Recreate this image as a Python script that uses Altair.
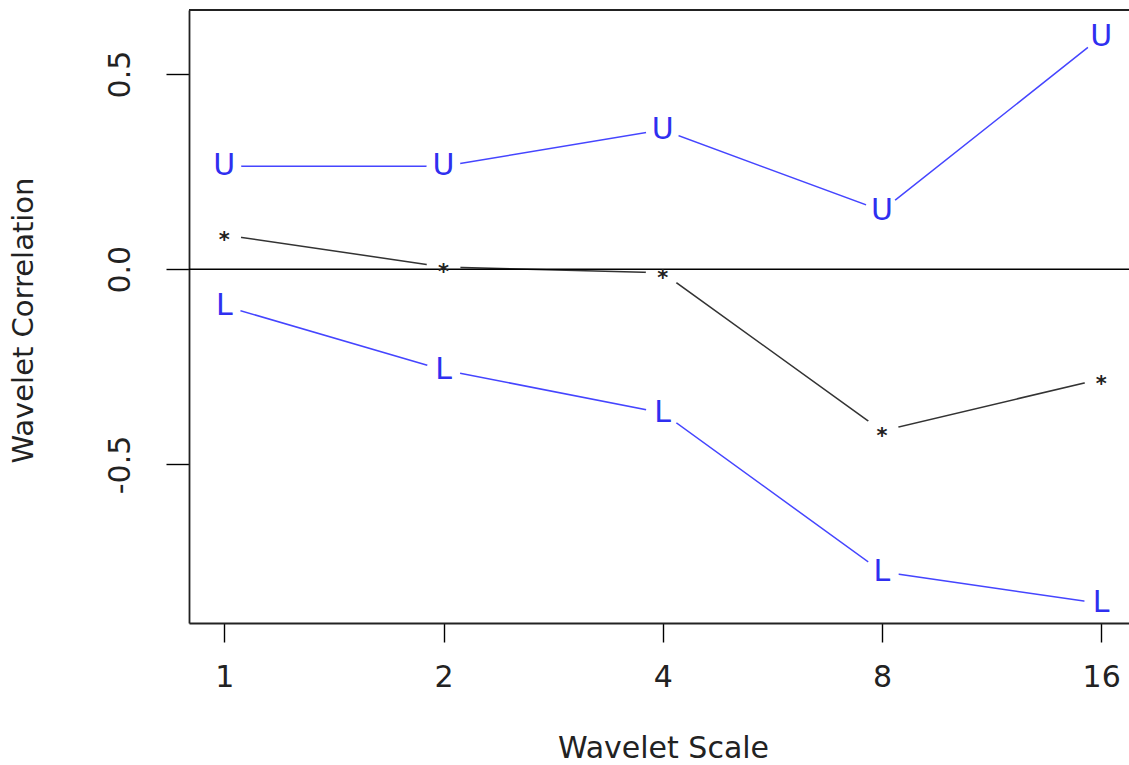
import altair as alt
import pandas as pd
import numpy as np

# ---- data ----
scales = [1, 2, 4, 8, 16]
upper = [0.264, 0.264, 0.357, 0.150, 0.595]
estimate = [0.088, 0.006, -0.009, -0.414, -0.281]
lower = [-0.094, -0.258, -0.368, -0.775, -0.856]

x_ticks = [0, 1, 2, 3, 4]
y_ticks = [-0.5, 0.0, 0.5]

rows = []
for name, vals, sym in (("upper", upper, "U"), ("estimate", estimate, "*"), ("lower", lower, "L")):
    for s, v in zip(scales, vals):
        rows.append({"series": name, "scale": s, "lx": float(np.log2(s)), "value": v, "sym": sym})
df = pd.DataFrame(rows)

FONT = "DejaVu Sans"
BLUE = "#2f2ff0"

xs = alt.X("lx:Q",
           scale=alt.Scale(domain=[-0.161, 4.127], nice=False, zero=False),
           axis=alt.Axis(values=x_ticks, labelExpr="toString(pow(2, datum.value))",
                         title="Wavelet Scale", grid=False,
                         tickSize=19, tickColor="black", tickWidth=1.4,
                         domainColor="#222", domainWidth=1.8,
                         labelFont=FONT, labelFontSize=30, labelColor="#222",
                         labelPadding=44, labelBaseline="alphabetic",
                         titleFont=FONT, titleFontSize=30, titleFontWeight="normal",
                         titleColor="#222", titleBaseline="alphabetic",
                         titleX=474, titleY=134, titleAlign="center"))
ys = alt.Y("value:Q",
           scale=alt.Scale(domain=[-0.906, 0.664], nice=False, zero=False),
           axis=alt.Axis(values=y_ticks,
                         labelExpr="datum.value === 0 ? '0.0' : toString(datum.value)",
                         title="Wavelet Correlation", grid=False,
                         tickSize=23, tickColor="black", tickWidth=1.4,
                         domainColor="#222", domainWidth=1.8,
                         labelFont=FONT, labelFontSize=30, labelColor="#222",
                         labelAngle=-90, labelAlign="center", labelBaseline="alphabetic",
                         labelPadding=37,
                         titleFont=FONT, titleFontSize=29, titleFontWeight="normal",
                         titleColor="#222", titleAngle=-90, titleBaseline="alphabetic",
                         titleX=-157, titleY=310, titleAlign="center"))

base = alt.Chart(df)

lines = base.mark_line(strokeWidth=1.5).encode(
    x=xs, y=ys, detail="series:N",
    color=alt.Color("series:N",
                    scale=alt.Scale(domain=["upper", "estimate", "lower"],
                                    range=["#4545ff", "#333333", "#4545ff"]),
                    legend=None),
)

gaps = base.mark_point(filled=True, shape="circle", size=1150, color="white", opacity=1).encode(
    x=xs, y=ys
)

zero = alt.Chart(pd.DataFrame({"z": [0.0]})).mark_rule(color="black", strokeWidth=1.5).encode(
    y=alt.Y("z:Q")
)
top = alt.Chart(pd.DataFrame({"z": [0.0]})).mark_rule(color="#222", strokeWidth=1.8).encode(
    y=alt.value(0)
)

letters = base.transform_filter("datum.series !== 'estimate'").mark_text(
    font=FONT, fontSize=30, color=BLUE, baseline="middle", align="center"
).encode(x=xs, y=ys, text="sym:N")

stars = base.transform_filter("datum.series === 'estimate'").mark_text(
    font=FONT, fontSize=21, fontWeight="bold", color="#222", baseline="alphabetic",
    align="center", dy=12
).encode(x=xs, y=ys, text="sym:N")

chart = alt.layer(lines, gaps, zero, top, letters, stars).properties(
    width=940, height=613,
    padding={"left": 189, "top": 10, "right": 0, "bottom": 142},
    autosize=alt.AutoSizeParams(type="none"),
).configure_view(stroke=None).configure(background="white")

chart.save("out.html", embed_options={"renderer": "svg", "actions": False})
